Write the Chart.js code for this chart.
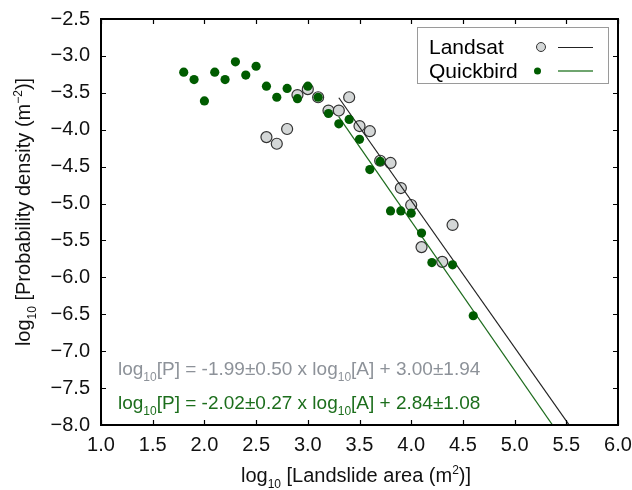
<!DOCTYPE html>
<html>
<head>
<meta charset="utf-8">
<script src="https://cdn.jsdelivr.net/npm/chart.js@4.4.0/dist/chart.umd.min.js"></script>
<style>
  html, body { margin: 0; padding: 0; background: #fff; }
  canvas { display: block; }
</style>
</head>
<body>
<canvas id="chart" width="632" height="490"></canvas>
<script>
// Landsat histogram points (log10 area, log10 probability density)
const landsatX = [2.6, 2.7, 2.8, 2.9, 3.0, 3.1, 3.2, 3.3, 3.4, 3.5, 3.6, 3.7, 3.8, 3.9, 4.0, 4.1, 4.3, 4.4];
const landsatY = [-4.10, -4.19, -3.99, -3.53, -3.45, -3.56, -3.74, -3.74, -3.56, -3.95, -4.02, -4.42, -4.45, -4.79, -5.02, -5.59, -5.79, -5.29];

// Quickbird histogram points
const quickbirdX = [1.8, 1.9, 2.0, 2.1, 2.2, 2.3, 2.4, 2.5, 2.6, 2.7, 2.8, 2.9, 3.0, 3.1, 3.2, 3.3, 3.4, 3.5, 3.6, 3.7, 3.8, 3.9, 4.0, 4.1, 4.2, 4.4, 4.6];
const quickbirdY = [-3.22, -3.32, -3.61, -3.22, -3.32, -3.08, -3.26, -3.14, -3.41, -3.56, -3.44, -3.58, -3.41, -3.56, -3.78, -3.92, -3.86, -4.13, -4.54, -4.43, -5.10, -5.10, -5.13, -5.40, -5.80, -5.83, -6.52];

// Fitted power laws, as printed on the chart
const landsatFit = [-1.99, 3.00];     // slope, intercept
const quickbirdFit = [-2.02, 2.84];
const landsatFitRange = [3.3, 5.6];
const quickbirdFitRange = [3.3, 5.5];

// Axis ticks
const xTicks = [1.0, 1.5, 2.0, 2.5, 3.0, 3.5, 4.0, 4.5, 5.0, 5.5, 6.0];
const yTicks = [-8.0, -7.5, -7.0, -6.5, -6.0, -5.5, -5.0, -4.5, -4.0, -3.5, -3.0, -2.5];

const FONT = '"Liberation Sans", Arial, Helvetica, sans-serif';
const GREEN_TEXT = '#1c6e1c';
const GREY_TEXT = '#8d9299';

function toPoints(xs, ys) {
    return xs.map((x, i) => ({ x: x, y: ys[i] }));
}

function fitPoints(fit, range) {
    return range.map(x => ({ x: x, y: fit[0] * x + fit[1] }));
}

function fontFor(mode, size) {
    let s = mode === 0 ? size : Math.round(size * 0.62);
    return s + 'px ' + FONT;
}

// Draw text with sub (-1) and superscript (1) parts
function drawRich(ctx, parts, x, y, size, color, align) {
    let total = 0;
    parts.forEach(p => {
        ctx.font = fontFor(p[1], size);
        total += ctx.measureText(p[0]).width;
    });
    let cx = align === 'center' ? x - total / 2 : x;
    ctx.fillStyle = color;
    ctx.textAlign = 'left';
    ctx.textBaseline = 'alphabetic';
    parts.forEach(p => {
        ctx.font = fontFor(p[1], size);
        let dy = p[1] === -1 ? size * 0.3 : (p[1] === 1 ? -size * 0.4 : 0);
        ctx.fillText(p[0], cx, y + dy);
        cx += ctx.measureText(p[0]).width;
    });
}

const decorations = {
    id: 'decorations',
    afterDraw(chart) {
        const ctx = chart.ctx;
        const area = chart.chartArea;
        const xs = chart.scales.x;
        const ys = chart.scales.y;
        ctx.save();

        // frame
        ctx.strokeStyle = '#000';
        ctx.lineWidth = 2;
        ctx.strokeRect(area.left, area.top, area.right - area.left, area.bottom - area.top);

        // inward ticks on all four sides
        ctx.lineWidth = 1.2;
        ctx.beginPath();
        xTicks.forEach(v => {
            let px = Math.round(xs.getPixelForValue(v)) + 0.5;
            ctx.moveTo(px, area.bottom);
            ctx.lineTo(px, area.bottom - 5);
            ctx.moveTo(px, area.top);
            ctx.lineTo(px, area.top + 5);
        });
        yTicks.forEach(v => {
            let py = Math.round(ys.getPixelForValue(v)) + 0.5;
            ctx.moveTo(area.left, py);
            ctx.lineTo(area.left + 5, py);
            ctx.moveTo(area.right, py);
            ctx.lineTo(area.right - 5, py);
        });
        ctx.stroke();

        // axis titles
        drawRich(ctx, [['log', 0], ['10', -1], [' [Landslide area (m', 0], ['2', 1], [')]', 0]],
            356, 482, 20, '#111', 'center');
        ctx.save();
        ctx.translate(30, 212);
        ctx.rotate(-Math.PI / 2);
        drawRich(ctx, [['log', 0], ['10', -1], [' [Probability density (m', 0], ['\u22122', 1], [')]', 0]],
            0, 0, 20, '#111', 'center');
        ctx.restore();

        // fit equations
        drawRich(ctx, [['log', 0], ['10', -1], ['[P] = ' + landsatFit[0].toFixed(2) + '\u00b10.50 x log', 0], ['10', -1],
            ['[A] + ' + landsatFit[1].toFixed(2) + '\u00b11.94', 0]], 118, 375, 19, GREY_TEXT, 'left');
        drawRich(ctx, [['log', 0], ['10', -1], ['[P] = ' + quickbirdFit[0].toFixed(2) + '\u00b10.27 x log', 0], ['10', -1],
            ['[A] + ' + quickbirdFit[1].toFixed(2) + '\u00b11.08', 0]], 118, 409, 19, GREEN_TEXT, 'left');

        // legend
        ctx.fillStyle = '#fff';
        ctx.fillRect(417.5, 27.5, 191, 56);
        ctx.strokeStyle = '#9a9a9a';
        ctx.lineWidth = 1;
        ctx.strokeRect(417.5, 27.5, 191, 56);
        ctx.fillStyle = '#000';
        ctx.font = '21px ' + FONT;
        ctx.textAlign = 'left';
        ctx.textBaseline = 'alphabetic';
        ctx.fillText('Landsat', 429, 54);
        ctx.fillText('Quickbird', 429, 78);

        ctx.beginPath();
        ctx.arc(541, 47, 4.5, 0, Math.PI * 2);
        ctx.fillStyle = '#d4d7d7';
        ctx.fill();
        ctx.strokeStyle = '#333';
        ctx.lineWidth = 1;
        ctx.stroke();

        ctx.beginPath();
        ctx.arc(537.5, 71, 3.5, 0, Math.PI * 2);
        ctx.fillStyle = '#005c00';
        ctx.fill();

        ctx.beginPath();
        ctx.moveTo(558, 47.5);
        ctx.lineTo(593, 47.5);
        ctx.strokeStyle = '#222';
        ctx.stroke();
        ctx.beginPath();
        ctx.moveTo(558, 71);
        ctx.lineTo(593, 71);
        ctx.strokeStyle = '#3f873f';
        ctx.lineWidth = 1.4;
        ctx.stroke();

        ctx.restore();
    }
};

new Chart(document.getElementById('chart').getContext('2d'), {
    type: 'scatter',
    data: {
        datasets: [
            {
                label: 'Quickbird',
                data: toPoints(quickbirdX, quickbirdY),
                backgroundColor: '#005c00',
                borderColor: '#005c00',
                borderWidth: 0,
                pointRadius: 4.6,
                order: 0
            },
            {
                label: 'Quickbird fit',
                data: fitPoints(quickbirdFit, quickbirdFitRange),
                showLine: true,
                borderColor: '#1d6b1d',
                borderWidth: 1.2,
                pointRadius: 0,
                order: 1
            },
            {
                label: 'Landsat fit',
                data: fitPoints(landsatFit, landsatFitRange),
                showLine: true,
                borderColor: '#222',
                borderWidth: 1.2,
                pointRadius: 0,
                order: 1
            },
            {
                label: 'Landsat',
                data: toPoints(landsatX, landsatY),
                backgroundColor: '#d4d7d7',
                borderColor: '#333',
                borderWidth: 1.2,
                pointRadius: 5.5,
                order: 2
            }
        ]
    },
    options: {
        responsive: false,
        animation: false,
        events: [],
        layout: { padding: { left: 0, right: 14, top: 19, bottom: 0 } },
        plugins: {
            legend: { display: false },
            title: { display: false },
            tooltip: { enabled: false }
        },
        scales: {
            x: {
                type: 'linear',
                min: 1,
                max: 6,
                afterFit: s => {
                    s.height = 65;
                    s.paddingLeft = 0;
                    s.paddingRight = 0;
                },
                afterBuildTicks: s => { s.ticks = xTicks.map(v => ({ value: v })); },
                grid: { display: false, drawTicks: false },
                border: { display: false },
                ticks: {
                    padding: 8,
                    color: '#111',
                    font: { family: FONT, size: 20 },
                    maxRotation: 0,
                    callback: v => v.toFixed(1)
                }
            },
            y: {
                type: 'linear',
                min: -8,
                max: -2.5,
                afterFit: s => {
                    s.width = 101;
                    s.paddingTop = 0;
                    s.paddingBottom = 0;
                },
                afterBuildTicks: s => { s.ticks = yTicks.map(v => ({ value: v })); },
                grid: { display: false, drawTicks: false },
                border: { display: false },
                ticks: {
                    padding: 11,
                    color: '#111',
                    font: { family: FONT, size: 20 },
                    callback: v => (v < 0 ? '\u2212' : '') + Math.abs(v).toFixed(1)
                }
            }
        }
    },
    plugins: [decorations]
});
</script>
</body>
</html>
